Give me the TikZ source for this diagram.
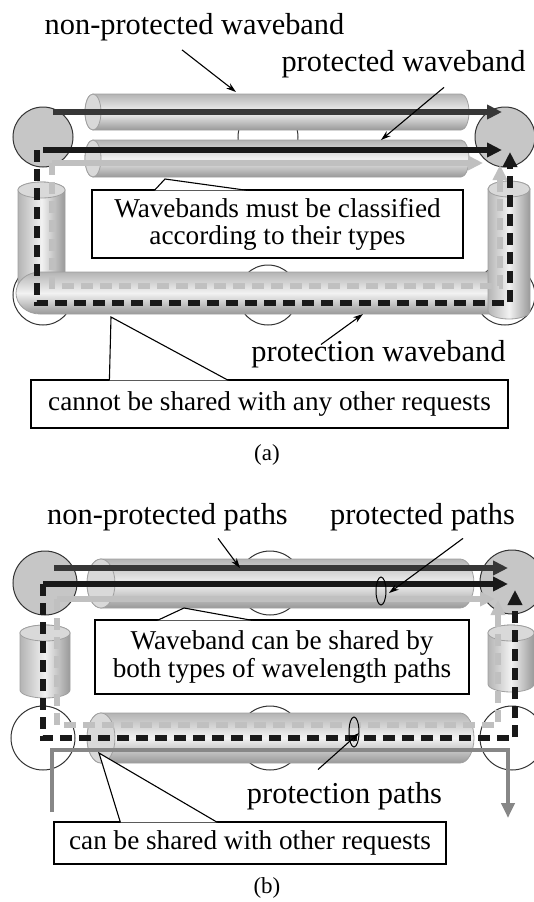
\documentclass[tikz,border=0pt]{standalone}
\usepackage{fontspec}
\setmainfont{Liberation Serif}
\usepackage{tikz}
\usetikzlibrary{arrows.meta, positioning, calc}
\definecolor{nodegray}{RGB}{198,198,198}
\definecolor{pathdark}{RGB}{55,55,55}
\definecolor{pathblack}{RGB}{25,25,25}
\definecolor{pathlight}{RGB}{192,192,192}
\definecolor{pathmid}{RGB}{135,135,135}
\definecolor{tubegray}{RGB}{180,180,180}
\definecolor{tubelight}{RGB}{242,242,242}
\definecolor{tuberim}{RGB}{160,160,160}
\tikzset{
  switchon/.style={circle, draw=black!80, fill=nodegray, line width=0.5pt,
    inner sep=0pt, minimum size=30pt},
  switchoff/.style={circle, draw=black!80, fill=white, line width=0.5pt,
    inner sep=0pt, minimum size=30pt},
  tube/.style={top color=tubegray, bottom color=tubegray!85!black,
    middle color=tubelight, draw=tuberim, line width=0.4pt},
  vtube/.style={left color=tubegray, right color=tubegray!85!black,
    middle color=tubelight, draw=tuberim, line width=0.4pt},
  tubecap/.style={fill=tubegray!40!tubelight, draw=tuberim, line width=0.4pt},
  npath/.style={line width=2.6pt, color=pathdark, -{Triangle[length=7.5pt, width=7pt]}},
  wpath/.style={line width=2.6pt, color=pathblack, -{Triangle[length=7.5pt, width=7pt]}},
  bdash/.style={line width=2.6pt, color=pathblack, dash pattern=on 6pt off 3.5pt,
    -{Triangle[length=7.5pt, width=7pt]}},
  lpath/.style={line width=2.6pt, color=pathlight, -{Triangle[length=7.5pt, width=7pt]}},
  ldash/.style={line width=2.6pt, color=pathlight, dash pattern=on 6pt off 3.5pt,
    -{Triangle[length=7.5pt, width=7pt]}},
  mpath/.style={line width=2.2pt, color=pathmid, -{Triangle[length=7.5pt, width=6.5pt]}},
  ring/.style={line width=0.5pt, draw=black},
  callarrow/.style={line width=0.55pt, -{Stealth[length=5pt, width=3.2pt]}},
  bandlabel/.style={inner sep=0pt, anchor=base, font=\fontsize{15.2}{18}\selectfont},
  notebox/.style={draw, fill=white, line width=0.6pt, inner sep=0pt, align=center,
    font=\fontsize{13.6}{13.6}\selectfont},
  pointer/.style={fill=white, draw=black, line width=0.55pt},
  capt/.style={inner sep=0pt, font=\fontsize{11.5}{13}\selectfont}
}
% horizontal tube: left x, right x, centre y, half height, cap radius
\newcommand{\htube}[5]{%
  \path[tube] (#1,#3-#4) -- (#2,#3-#4)
    arc[start angle=-90, end angle=90, x radius=#5, y radius=#4]
    -- (#1,#3+#4)
    arc[start angle=90, end angle=270, x radius=#5, y radius=#4] -- cycle;
  \path[tubecap] (#1,#3) ellipse[x radius=#5, y radius=#4];
}
% vertical tube: centre x, half width, top y, bottom y, cap radius
\newcommand{\vtubeat}[5]{%
  \path[vtube] (#1-#2,#3) -- (#1-#2,#4)
    arc[start angle=180, end angle=0, x radius=#2, y radius=#5]
    -- (#1+#2,#3)
    arc[start angle=0, end angle=-180, x radius=#2, y radius=#5] -- cycle;
  \path[tubecap] (#1,#3) ellipse[x radius=#2, y radius=#5];
}

\begin{document}
\begin{tikzpicture}[x=0.5pt, y=-0.5pt]
  \useasboundingbox (0,0) rectangle (534,902);

  % ---- (a) ----
  \node[switchoff] (a-tm) at (268,137) {};
  \node[switchoff] (a-bl) at (43,295) {};
  \node[switchoff] (a-bm) at (268,295) {};
  \node[switchoff] (a-br) at (505,295) {};
  \node[switchon] (a-tl) at (43,137) {};
  \node[switchon] (a-tr) at (505,137) {};

  \htube{93}{461}{112}{18}{8}
  \htube{93}{461}{158.5}{18.5}{8}
  \vtubeat{41.5}{23.5}{190}{285}{8}
  \path[tube] (40,272) -- (492,272) -- (492,314) -- (40,314)
    arc[start angle=90, end angle=270, x radius=24, y radius=21] -- cycle;
  \vtubeat{509}{21}{189}{311}{8}

  \draw[lpath] ([shift={(9,26)}]a-tl.center) -- ([shift={(-22,26)}]a-tr.center);
  \draw[ldash] ([shift={(9,26)}]a-tl.center) |- ([shift={(-5,-9)}]a-br.center)
    -- ([shift={(-5,28)}]a-tr.center);
  \draw[bdash] ([shift={(-6,13)}]a-tl.center) |- ([shift={(5,8)}]a-br.center)
    -- ([shift={(5,15)}]a-tr.center);
  \draw[npath] ([shift={(10,-25)}]a-tl.center) -- ([shift={(-3,-25)}]a-tr.center);
  \draw[wpath] ([shift={(0,13)}]a-tl.center) -- ([shift={(-3,13)}]a-tr.center);

  \node[bandlabel] (a-lbl-np) at (194.5,34) {non-protected waveband};
  \coordinate (a-np-tip) at (236,92);
  \draw[callarrow] ([shift={(-12.5,9)}]a-lbl-np.south) -- (a-np-tip);
  \node[bandlabel] (a-lbl-p) at (403.5,71) {protected waveband};
  \coordinate (a-p-tip) at (381,140);
  \draw[callarrow] ([shift={(40.5,9.5)}]a-lbl-p.south) -- (a-p-tip);
  \node[bandlabel] (a-lbl-pw) at (378.5,361) {protection waveband};
  \coordinate (a-pw-tip) at (363,314);
  \draw[callarrow] ([shift={(-57.5,5)}]a-lbl-pw.north) -- (a-pw-tip);

  \node[notebox, minimum width=185.5pt, minimum height=34pt] (a-note1) at (277.5,224)
    {Wavebands must be classified\\according to their types};
  \coordinate (a-ptr1) at (165,179);
  \path[pointer] ($(a-note1.north west)+(63,1)$) -- (a-ptr1) -- ($(a-note1.north west)+(156,1)$);
  \node[notebox, minimum width=238.5pt, minimum height=24pt] (a-note2) at (269.5,404)
    {cannot be shared with any other requests};
  \coordinate (a-ptr2) at (111,317);
  \path[pointer] ($(a-note2.north west)+(79,1)$) -- (a-ptr2) -- ($(a-note2.north west)+(198,1)$);

  \node[capt] (a-cap) at (267,455) {(a)};

  % ---- (b) ----
  \begin{scope}[switchon/.append style={minimum size=32pt},
                switchoff/.append style={minimum size=32pt}]
  \node[switchoff] (b-tm) at (270,583) {};
  \node[switchoff] (b-bl) at (43,738) {};
  \node[switchoff] (b-bm) at (270,738) {};
  \node[switchoff] (b-br) at (512,738) {};
  \node[switchon] (b-tl) at (45,583) {};
  \node[switchon] (b-tr) at (512,582) {};
  \end{scope}

  \vtubeat{45}{25}{633}{690}{8}
  \vtubeat{511}{23}{633}{684}{8}
  \htube{101}{460}{583.5}{24.5}{14}
  \htube{101}{460}{738}{25}{14}

  \draw[mpath] ([shift={(9,74)}]b-bl.center) |- ([shift={(-4,12)}]b-br.center)
    -- ([shift={(-4,80)}]b-br.center);
  \draw[lpath] ([shift={(12,16)}]b-tl.center) -- ([shift={(-17,17)}]b-tr.center);
  \draw[ldash] ([shift={(12,16)}]b-tl.center) |- ([shift={(-14,-13)}]b-br.center)
    -- ([shift={(-14,18)}]b-tr.center);
  \draw[bdash] ([shift={(-2,1)}]b-tl.center) |- ([shift={(3,0)}]b-br.center)
    -- ([shift={(3,8)}]b-tr.center);
  \draw[npath] ([shift={(9,-15)}]b-tl.center) -- ([shift={(-4,-14)}]b-tr.center);
  \draw[wpath] ([shift={(-2,1)}]b-tl.center) -- ([shift={(-4,2)}]b-tr.center);

  \draw[ring] (381,591) ellipse[x radius=5, y radius=14];
  \draw[ring] (354,732) ellipse[x radius=5, y radius=15];

  \node[bandlabel] (b-lbl-np) at (167.5,524) {non-protected paths};
  \coordinate (b-np-tip) at (240,568);
  \draw[callarrow] ([shift={(50.5,7.5)}]b-lbl-np.south) -- (b-np-tip);
  \node[bandlabel] (b-lbl-p) at (422.5,524) {protected paths};
  \coordinate (b-p-tip) at (389,593);
  \draw[callarrow] ([shift={(40.5,7.5)}]b-lbl-p.south) -- (b-p-tip);
  \node[bandlabel] (b-lbl-pp) at (344.5,803) {protection paths};
  \coordinate (b-pp-tip) at (359,733);
  \draw[callarrow] ([shift={(-26.5,-12)}]b-lbl-pp.north) -- (b-pp-tip);

  \node[notebox, minimum width=187pt, minimum height=37pt] (b-note1) at (282,657)
    {Waveband can be shared by\\both types of wavelength paths};
  \coordinate (b-ptr1) at (184,608);
  \path[pointer] ($(b-note1.north west)+(63,1)$) -- (b-ptr1) -- ($(b-note1.north west)+(158,1)$);
  \node[notebox, minimum width=196pt, minimum height=21pt] (b-note2) at (250,843)
    {can be shared with other requests};
  \coordinate (b-ptr2) at (99,753);
  \path[pointer] ($(b-note2.north west)+(67,1)$) -- (b-ptr2) -- ($(b-note2.north west)+(164,1)$);

  \node[capt] (b-cap) at (267,888) {(b)};
\end{tikzpicture}
\end{document}
